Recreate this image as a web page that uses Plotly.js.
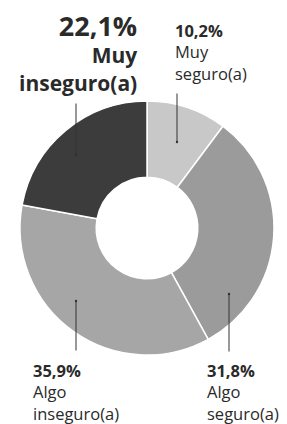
<!DOCTYPE html>
<html>
<head>
<meta charset="utf-8">
<script src="https://cdn.plot.ly/plotly-3.0.1.min.js"></script>
<style>html,body{margin:0;padding:0;background:#fff;}#chart{width:287px;height:424px;}</style>
</head>
<body>
<div id="chart"></div>
<script>
// Data
const categories = ["Muy seguro(a)", "Algo seguro(a)", "Algo inseguro(a)", "Muy inseguro(a)"];
const values = [10.2, 31.8, 35.9, 22.1];
const valueLabels = ["10,2%", "31,8%", "35,9%", "22,1%"];
const nameLines = [["Muy", "seguro(a)"], ["Algo", "seguro(a)"], ["Algo", "inseguro(a)"], ["Muy", "inseguro(a)"]];
const colors = ["#c8c8c8", "#9b9b9b", "#a6a6a6", "#3c3c3c"];

const W = 287, H = 424;
const px = x => x / W;
const py = y => 1 - y / H;
const FONT = "Open Sans";
const TXT = "#2a2a2a";

const trace = {
  type: "pie",
  labels: categories,
  values: values,
  sort: false,
  direction: "clockwise",
  rotation: 0,
  hole: 0.4,
  textinfo: "none",
  hoverinfo: "label+value",
  marker: { colors: colors, line: { color: "#ffffff", width: 1.5 } },
  domain: { x: [px(20), px(274)], y: [py(355), py(101)] },
  showlegend: false
};

function leader(tipX, tipY, tailX, tailY) {
  return {
    xref: "paper", yref: "paper", x: px(tipX), y: py(tipY),
    text: "", showarrow: true, arrowhead: 6, arrowsize: 0.6, arrowwidth: 1,
    arrowcolor: "#333", ax: tailX - tipX, ay: tailY - tipY, standoff: 0, startstandoff: 0
  };
}

const SMALL = 16.5;
const annotations = [
  // Muy inseguro (big)
  { xref: "paper", yref: "paper", x: px(139), y: py(5), xanchor: "right", yanchor: "top", align: "right",
    text: "<span style='font-size:27px'><b>" + valueLabels[3] + "</b></span><br><b>" + nameLines[3].join("<br>") + "</b>",
    showarrow: false,
    font: { family: FONT, size: 21, color: TXT } },
  // Muy seguro
  { xref: "paper", yref: "paper", x: px(173), y: py(17), xanchor: "left", yanchor: "top", align: "left",
    text: "<b>" + valueLabels[0] + "</b><br>" + nameLines[0].join("<br>"), showarrow: false,
    font: { family: FONT, size: SMALL, color: TXT } },
  // Algo inseguro
  { xref: "paper", yref: "paper", x: px(31), y: py(357), xanchor: "left", yanchor: "top", align: "left",
    text: "<b>" + valueLabels[2] + "</b><br>" + nameLines[2].join("<br>"), showarrow: false,
    font: { family: FONT, size: SMALL, color: TXT } },
  // Algo seguro
  { xref: "paper", yref: "paper", x: px(205), y: py(357), xanchor: "left", yanchor: "top", align: "left",
    text: "<b>" + valueLabels[1] + "</b><br>" + nameLines[1].join("<br>"), showarrow: false,
    font: { family: FONT, size: SMALL, color: TXT } },
  leader(177, 142, 177, 92),
  leader(76, 155, 76, 102),
  leader(76, 301, 76, 352),
  leader(229, 294, 229, 353)
];

const layout = {
  width: W, height: H,
  margin: { l: 0, r: 0, t: 0, b: 0 },
  paper_bgcolor: "#ffffff",
  plot_bgcolor: "#ffffff",
  annotations: annotations,
  showlegend: false
};

Plotly.newPlot("chart", [trace], layout, { displayModeBar: false, staticPlot: true });
</script>
</body>
</html>
